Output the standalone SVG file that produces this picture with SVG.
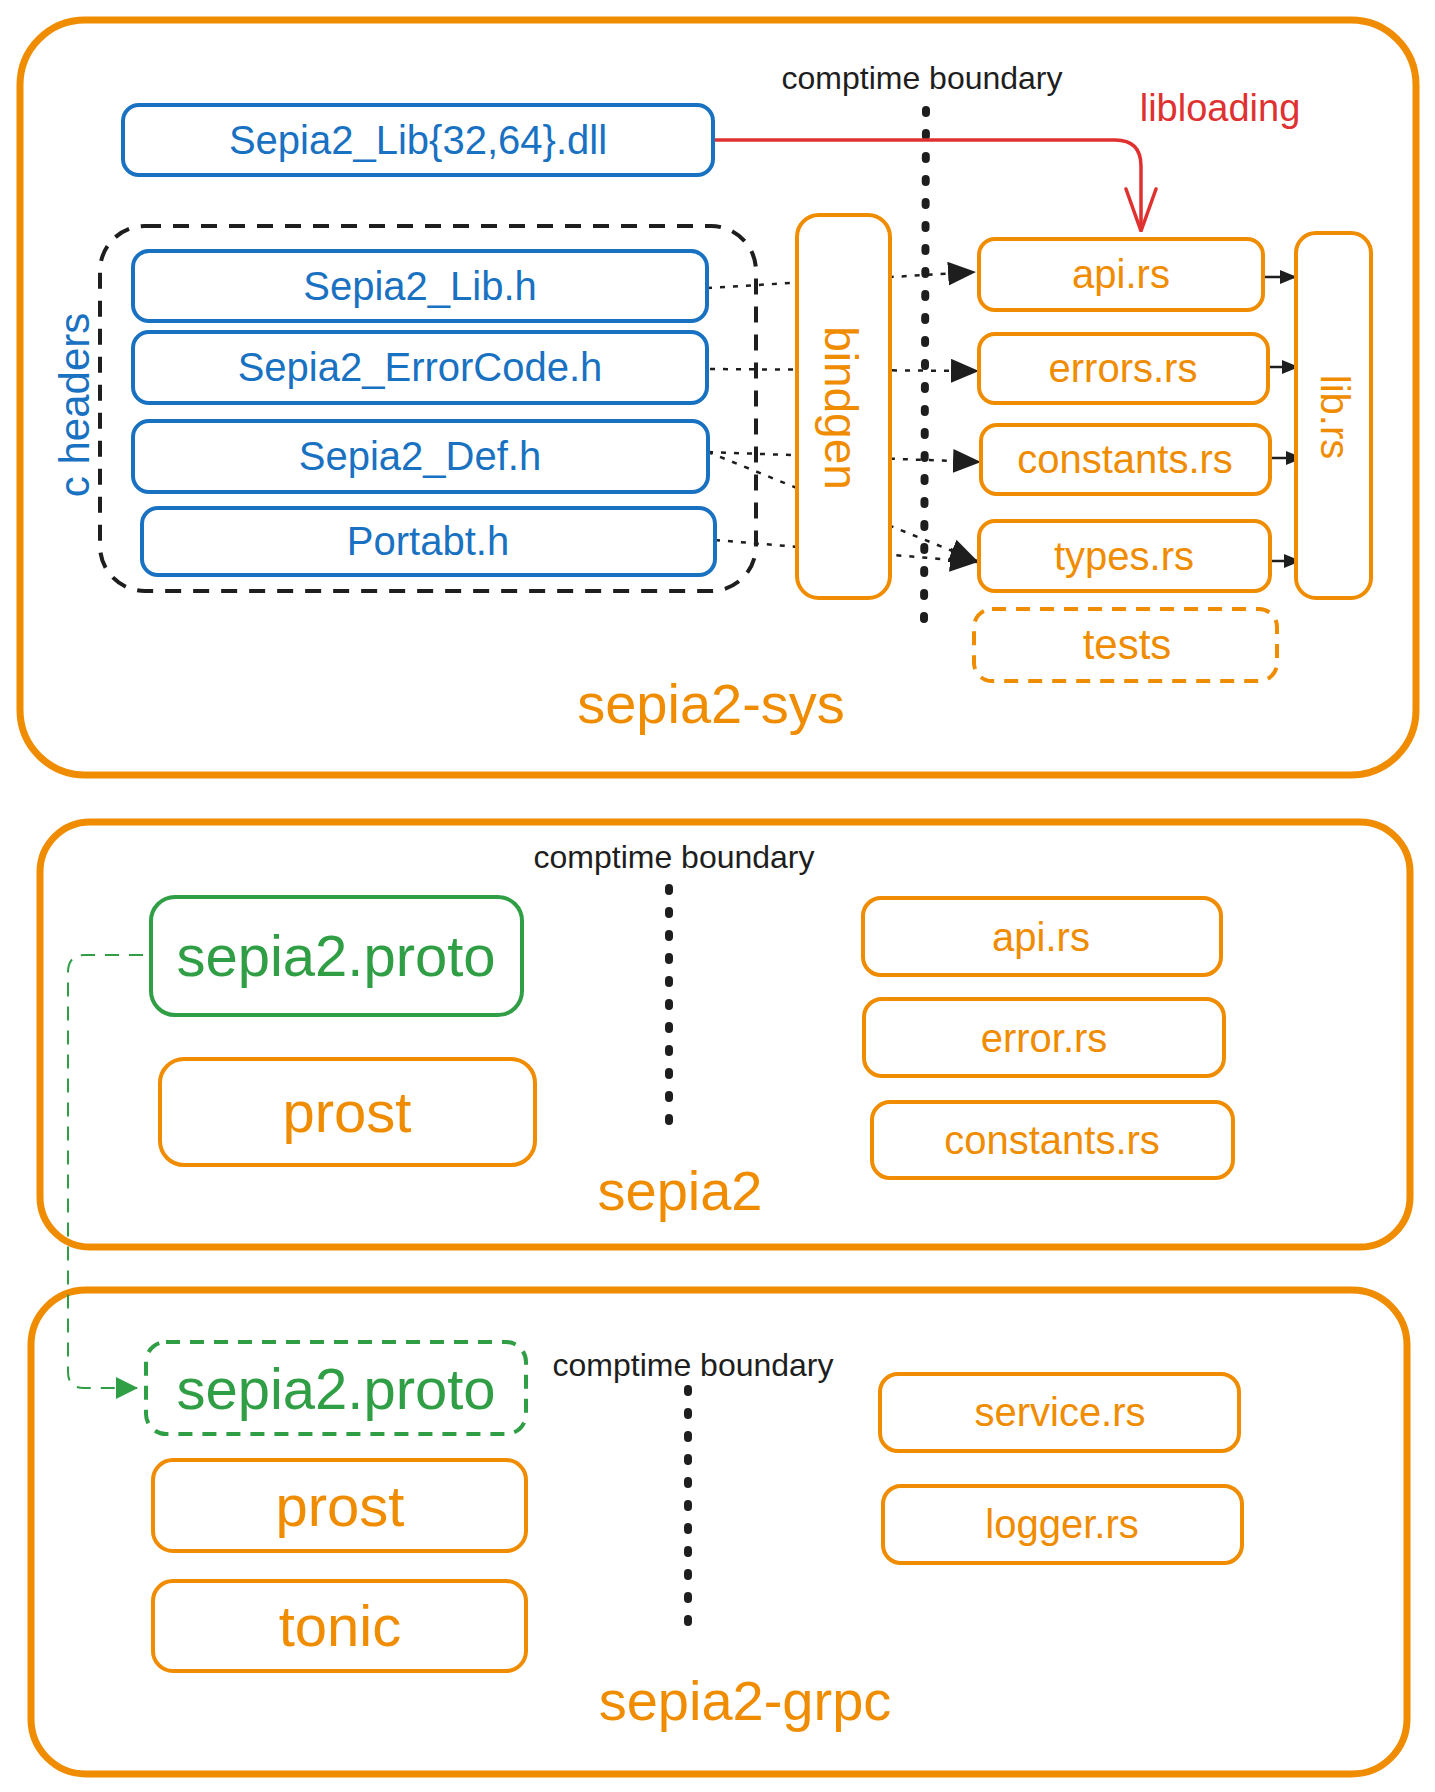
<svg xmlns="http://www.w3.org/2000/svg" width="1435" height="1792" viewBox="0 0 1435 1792">
<style>
text{font-family:"Liberation Sans","DejaVu Sans",sans-serif;text-anchor:middle;dominant-baseline:central}
.outer{fill:#fff;stroke:#f08c00;stroke-width:7}
.org{fill:#fff;stroke:#f08c00;stroke-width:4}
.blu{fill:#fff;stroke:#1971c2;stroke-width:4}
.grn{fill:#fff;stroke:#2f9e44;stroke-width:4}
.dash{stroke-dasharray:14 10;fill:none}
.to{fill:#f08c00}
.tb{fill:#1971c2}
.tg{fill:#2f9e44}
.tk{fill:#1e1e1e}
.tr{fill:#e03131}
.boundary{stroke:#1e1e1e;stroke-width:8;stroke-linecap:round;stroke-dasharray:3 20;fill:none}
.dot{stroke:#1e1e1e;stroke-width:2.5;stroke-dasharray:5 8;fill:none}
.solid{stroke:#1e1e1e;stroke-width:2.5;fill:none}
</style>
<defs>
<marker id="tri" viewBox="0 0 28 24" refX="27" refY="12" markerWidth="28" markerHeight="24" markerUnits="userSpaceOnUse" orient="auto">
<path d="M0,0 L28,12 L0,24 z" fill="#1e1e1e"/>
</marker>
<marker id="small" viewBox="0 0 17 14" refX="16" refY="7" markerWidth="17" markerHeight="14" markerUnits="userSpaceOnUse" orient="auto">
<path d="M0,0 L17,7 L0,14 z" fill="#1e1e1e"/>
</marker>
<marker id="vred" viewBox="-3 -3 46 36" refX="42" refY="15" markerWidth="46" markerHeight="36" markerUnits="userSpaceOnUse" orient="auto">
<path d="M0,0 L42,15 L0,30" fill="none" stroke="#e03131" stroke-width="3.5" stroke-linecap="round"/>
</marker>
<marker id="gtri" viewBox="0 0 22 22" refX="21" refY="11" markerWidth="22" markerHeight="22" markerUnits="userSpaceOnUse" orient="auto">
<path d="M0,0 L22,11 L0,22 z" fill="#2f9e44"/>
</marker>
</defs>

<!-- containers -->
<g id="sepia2-sys">
<rect class="outer" x="20" y="20" width="1396" height="755" rx="65"/>
<text class="to" x="711" y="703" font-size="56">sepia2-sys</text>
</g>
<g id="sepia2">
<rect class="outer" x="40" y="822" width="1370" height="425" rx="50"/>
<text class="to" x="680" y="1190" font-size="56">sepia2</text>
</g>
<g id="sepia2-grpc">
<rect class="outer" x="31" y="1290" width="1376" height="484" rx="55"/>
<text class="to" x="745" y="1700" font-size="56">sepia2-grpc</text>
</g>

<!-- comptime boundaries -->
<g id="boundary-sys">
<path class="boundary" d="M926 110 L924 623"/>
<text class="tk" x="922" y="78" font-size="32">comptime boundary</text>
</g>
<g id="boundary-sepia2">
<path class="boundary" d="M669 888 L669 1122"/>
<text class="tk" x="674" y="857" font-size="32">comptime boundary</text>
</g>
<g id="boundary-grpc">
<path class="boundary" d="M688 1389 L688 1628"/>
<text class="tk" x="693" y="1365" font-size="32">comptime boundary</text>
</g>

<!-- c headers group -->
<g id="c-headers">
<rect x="100" y="226" width="656" height="365" rx="45" fill="none" stroke="#1e1e1e" stroke-width="4" stroke-dasharray="16 12"/>
<text class="tb" x="74" y="405" font-size="42" transform="rotate(-90 74 405)">c headers</text>
</g>

<!-- connectors -->
<g id="connectors">
<path class="dot" d="M707 288 L975 272" marker-end="url(#tri)"/>
<path class="dot" d="M710 369 L978 371" marker-end="url(#tri)"/>
<path class="dot" d="M708 452 L980 462" marker-end="url(#tri)"/>
<path class="dot" d="M708 452 L977 561" marker-end="url(#tri)"/>
<path class="dot" d="M715 540 L977 562" marker-end="url(#tri)"/>
<path class="solid" d="M1263 277 L1296 277" marker-end="url(#small)"/>
<path class="solid" d="M1268 367 L1298 367" marker-end="url(#small)"/>
<path class="solid" d="M1272 458 L1302 458" marker-end="url(#small)"/>
<path class="solid" d="M1270 561 L1300 561" marker-end="url(#small)"/>
<path d="M714 140 L1115 140 Q1141 140 1141 166 L1141 231" fill="none" stroke="#e03131" stroke-width="3.5" marker-end="url(#vred)"/>
<text class="tr" x="1220" y="108" font-size="38">libloading</text>
<path d="M143 955 L85 955 Q68 955 68 972 L68 1372 Q68 1388 84 1388 L137 1388" fill="none" stroke="#2f9e44" stroke-width="2" stroke-dasharray="14 10" marker-end="url(#gtri)"/>
</g>

<!-- sepia2-sys nodes -->
<g id="dll">
<rect class="blu" x="123" y="105" width="590" height="70" rx="16"/>
<text class="tb" x="418" y="140" font-size="40">Sepia2_Lib{32,64}.dll</text>
</g>
<g id="lib-h">
<rect class="blu" x="133" y="251" width="574" height="70" rx="16"/>
<text class="tb" x="420" y="286" font-size="40">Sepia2_Lib.h</text>
</g>
<g id="errorcode-h">
<rect class="blu" x="133" y="332" width="574" height="71" rx="16"/>
<text class="tb" x="420" y="367" font-size="40">Sepia2_ErrorCode.h</text>
</g>
<g id="def-h">
<rect class="blu" x="133" y="421" width="575" height="71" rx="16"/>
<text class="tb" x="420" y="456" font-size="40">Sepia2_Def.h</text>
</g>
<g id="portabt-h">
<rect class="blu" x="142" y="508" width="573" height="67" rx="16"/>
<text class="tb" x="428" y="541" font-size="40">Portabt.h</text>
</g>
<g id="bindgen">
<rect class="org" x="797" y="215" width="93" height="383" rx="22"/>
<text class="to" x="841" y="408" font-size="46" transform="rotate(90 841 408)">bindgen</text>
</g>
<g id="api-rs-sys">
<rect class="org" x="979" y="239" width="284" height="71" rx="16"/>
<text class="to" x="1121" y="274" font-size="40">api.rs</text>
</g>
<g id="errors-rs">
<rect class="org" x="979" y="334" width="289" height="69" rx="16"/>
<text class="to" x="1123" y="368" font-size="40">errors.rs</text>
</g>
<g id="constants-rs-sys">
<rect class="org" x="981" y="425" width="289" height="69" rx="16"/>
<text class="to" x="1125" y="459" font-size="40">constants.rs</text>
</g>
<g id="types-rs">
<rect class="org" x="979" y="521" width="291" height="70" rx="16"/>
<text class="to" x="1124" y="556" font-size="40">types.rs</text>
</g>
<g id="lib-rs">
<rect class="org" x="1296" y="233" width="75" height="365" rx="20"/>
<text class="to" x="1335" y="417" font-size="40" transform="rotate(90 1335 417)">lib.rs</text>
</g>
<g id="tests">
<rect class="org dash" x="974" y="609" width="303" height="72" rx="18"/>
<text class="to" x="1127" y="644" font-size="42">tests</text>
</g>

<!-- sepia2 nodes -->
<g id="proto-sepia2">
<rect class="grn" x="151" y="897" width="371" height="118" rx="24"/>
<text class="tg" x="336" y="955" font-size="58">sepia2.proto</text>
</g>
<g id="prost-sepia2">
<rect class="org" x="160" y="1059" width="375" height="106" rx="24"/>
<text class="to" x="347" y="1111" font-size="58">prost</text>
</g>
<g id="api-rs">
<rect class="org" x="863" y="898" width="358" height="77" rx="18"/>
<text class="to" x="1041" y="937" font-size="40">api.rs</text>
</g>
<g id="error-rs">
<rect class="org" x="864" y="999" width="360" height="77" rx="18"/>
<text class="to" x="1044" y="1038" font-size="40">error.rs</text>
</g>
<g id="constants-rs">
<rect class="org" x="872" y="1102" width="361" height="76" rx="18"/>
<text class="to" x="1052" y="1140" font-size="40">constants.rs</text>
</g>

<!-- sepia2-grpc nodes -->
<g id="proto-grpc">
<rect class="grn dash" x="146" y="1342" width="380" height="92" rx="20"/>
<text class="tg" x="336" y="1388" font-size="58">sepia2.proto</text>
</g>
<g id="prost-grpc">
<rect class="org" x="153" y="1460" width="373" height="91" rx="20"/>
<text class="to" x="340" y="1505" font-size="58">prost</text>
</g>
<g id="tonic">
<rect class="org" x="153" y="1581" width="373" height="90" rx="20"/>
<text class="to" x="340" y="1625" font-size="58">tonic</text>
</g>
<g id="service-rs">
<rect class="org" x="880" y="1374" width="359" height="77" rx="18"/>
<text class="to" x="1060" y="1412" font-size="40">service.rs</text>
</g>
<g id="logger-rs">
<rect class="org" x="883" y="1486" width="359" height="77" rx="18"/>
<text class="to" x="1062" y="1524" font-size="40">logger.rs</text>
</g>
</svg>
